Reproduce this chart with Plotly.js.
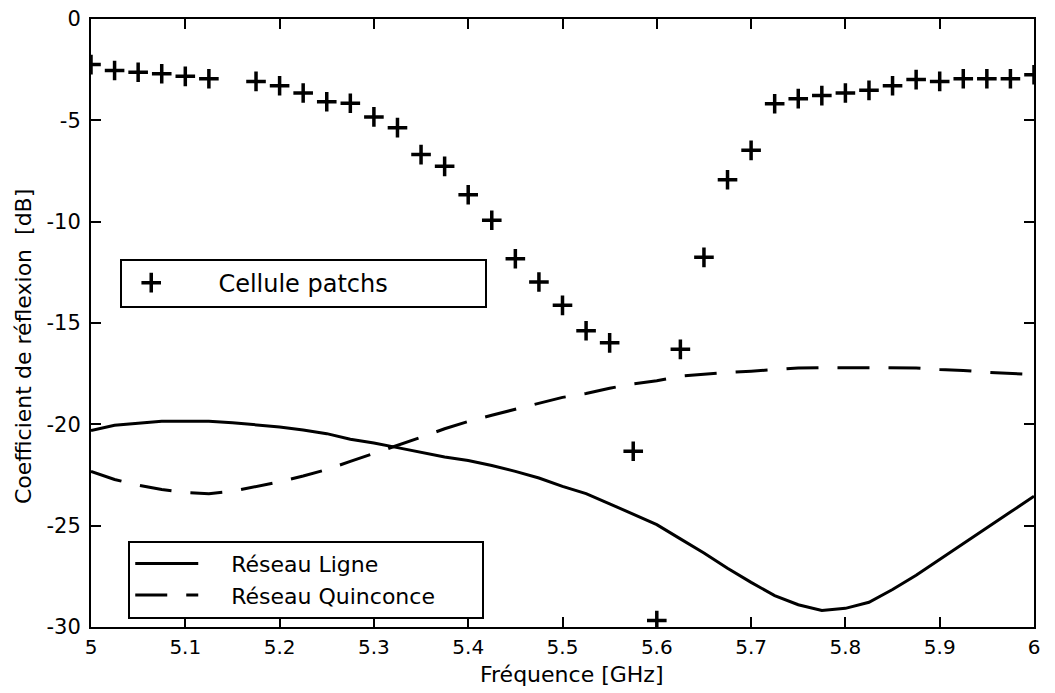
<!DOCTYPE html>
<html>
<head>
<meta charset="utf-8">
<script src="https://cdn.plot.ly/plotly-3.0.1.min.js"></script>
<style>html,body{margin:0;padding:0;background:#fff;}#chart{width:1055px;height:693px;}</style>
</head>
<body>
<div id="chart"></div>
<script>
// Cellule patchs (markers), step 0.025 GHz, 5.15 missing
var patchFreq = [5.000,5.025,5.050,5.075,5.100,5.125,5.175,5.200,5.225,5.250,5.275,5.300,5.325,5.350,5.375,5.400,5.425,5.450,5.475,5.500,5.525,5.550,5.575,5.600,5.625,5.650,5.675,5.700,5.725,5.750,5.775,5.800,5.825,5.850,5.875,5.900,5.925,5.950,5.975,6.000];
var patchDb = [-2.25,-2.54,-2.63,-2.70,-2.83,-2.95,-3.08,-3.29,-3.65,-4.08,-4.16,-4.83,-5.36,-6.69,-7.27,-8.67,-9.93,-11.83,-12.98,-14.13,-15.38,-15.98,-21.33,-29.68,-16.30,-11.76,-7.93,-6.48,-4.18,-3.93,-3.78,-3.65,-3.52,-3.29,-2.99,-3.08,-2.95,-2.95,-2.95,-2.75];

// Réseau Ligne / Réseau Quinconce
var lineFreq = [5.000,5.025,5.050,5.075,5.100,5.125,5.150,5.175,5.200,5.225,5.250,5.275,5.300,5.325,5.350,5.375,5.400,5.425,5.450,5.475,5.500,5.525,5.550,5.575,5.600,5.625,5.650,5.675,5.700,5.725,5.750,5.775,5.800,5.825,5.850,5.875,5.900,5.925,5.950,5.975,6.000];
var ligneDb = [-20.30,-20.05,-19.95,-19.85,-19.85,-19.85,-19.92,-20.02,-20.13,-20.28,-20.46,-20.74,-20.92,-21.15,-21.38,-21.61,-21.78,-22.03,-22.32,-22.65,-23.06,-23.42,-23.92,-24.42,-24.95,-25.65,-26.35,-27.10,-27.80,-28.45,-28.90,-29.18,-29.08,-28.78,-28.15,-27.45,-26.68,-25.90,-25.12,-24.33,-23.55];
var quinconceDb = [-22.32,-22.72,-23.00,-23.22,-23.36,-23.42,-23.30,-23.08,-22.84,-22.55,-22.23,-21.83,-21.44,-21.02,-20.64,-20.22,-19.86,-19.55,-19.25,-18.95,-18.67,-18.48,-18.22,-18.00,-17.85,-17.62,-17.52,-17.44,-17.38,-17.29,-17.22,-17.20,-17.20,-17.20,-17.20,-17.22,-17.30,-17.34,-17.43,-17.50,-17.55];

var xTickVals = [5,5.1,5.2,5.3,5.4,5.5,5.6,5.7,5.8,5.9,6];
var xTickText = ['5','5.1','5.2','5.3','5.4','5.5','5.6','5.7','5.8','5.9','6'];
var yTickVals = [0,-5,-10,-15,-20,-25,-30];
var yTickText = ['0','-5','-10','-15','-20','-25','-30'];

var xTitle = 'Fréquence [GHz]';
var yTitle = 'Coefficient de réflexion\u00A0\u00A0[dB]';

var FONT = 'DejaVu Sans, Liberation Sans, sans-serif';
var NB = '\u00A0';

var traces = [
  {x: lineFreq, y: ligneDb, type: 'scatter', mode: 'lines', name: NB.repeat(4) + 'Réseau Ligne',
   line: {color: '#000', width: 3}, legend: 'legend2'},
  {x: lineFreq, y: quinconceDb, type: 'scatter', mode: 'lines', name: NB.repeat(4) + 'Réseau Quinconce' + NB.repeat(6),
   line: {color: '#000', width: 3, dash: '32px,19px'}, legend: 'legend2'},
  {x: patchFreq, y: patchDb, type: 'scatter', mode: 'markers', name: NB.repeat(5) + 'Cellule patchs' + NB.repeat(12),
   marker: {symbol: 'cross-thin', size: 14, color: '#000', line: {color: '#000', width: 3.5}},
   legend: 'legend'}
];

var axisCommon = {
  showgrid: false, zeroline: false, showline: true, linecolor: '#000', linewidth: 2,
  mirror: 'ticks', ticks: 'inside', ticklen: 10, tickwidth: 2, tickcolor: '#000'
};

var layout = {
  width: 1055, height: 693,
  margin: {l: 91, r: 21, t: 19, b: 66, pad: 0},
  paper_bgcolor: '#fff', plot_bgcolor: '#fff',
  font: {family: FONT, color: '#000', size: 21},
  xaxis: Object.assign({}, axisCommon, {
    range: [5, 6], tickmode: 'array', tickvals: xTickVals, ticktext: xTickText,
    tickfont: {family: FONT, size: 20, color: '#000'}, ticklabelstandoff: 1
  }),
  yaxis: Object.assign({}, axisCommon, {
    range: [-30, 0], tickmode: 'array', tickvals: yTickVals, ticktext: yTickText,
    tickfont: {family: FONT, size: 21, color: '#000'}, ticklabelstandoff: 4
  }),
  annotations: [
    {text: xTitle, xref: 'paper', yref: 'paper', x: 0.510, y: -0.078, xanchor: 'center', yanchor: 'middle',
     showarrow: false, font: {family: FONT, size: 22, color: '#000'}},
    {text: yTitle, xref: 'paper', yref: 'paper', x: -0.0718, y: 0.461, xanchor: 'center', yanchor: 'middle',
     textangle: -90, showarrow: false, font: {family: FONT, size: 22, color: '#000'}}
  ],
  showlegend: true,
  legend: {x: 0.031, y: 0.606, xanchor: 'left', yanchor: 'top', bgcolor: '#fff',
    bordercolor: '#000', borderwidth: 2, itemwidth: 48,
    font: {family: FONT, size: 24, color: '#000'}},
  legend2: {x: 0.0395, y: 0.142, xanchor: 'left', yanchor: 'top', bgcolor: '#fff',
    bordercolor: '#000', borderwidth: 2, itemwidth: 63, tracegroupgap: 0,
    font: {family: FONT, size: 22, color: '#000'}}
};

Plotly.newPlot('chart', traces, layout, {displayModeBar: false, staticPlot: true});
</script>
</body>
</html>
